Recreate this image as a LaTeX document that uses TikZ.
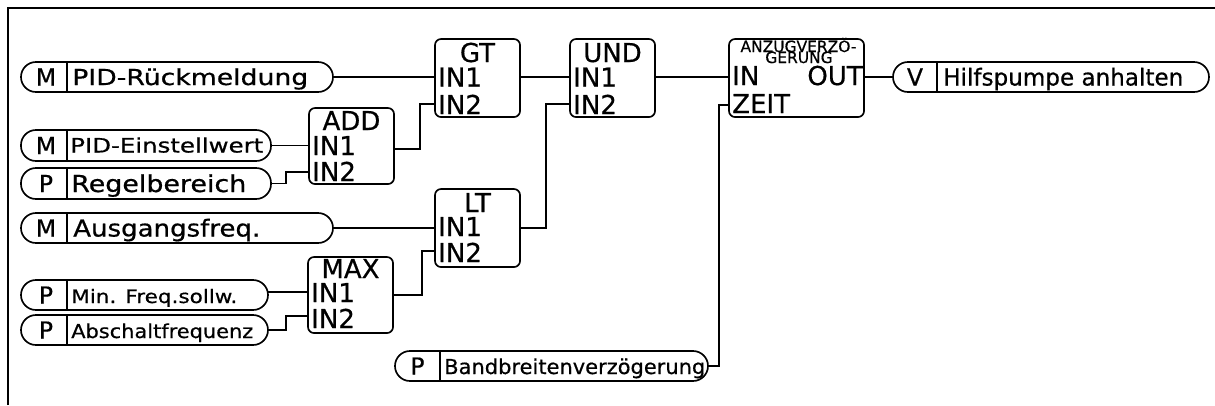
\documentclass[tikz,border=0pt]{standalone}
\usepackage{graphicx}
\usepackage{fontspec}
\setmainfont{DejaVu Sans}[FakeBold=0.6]
\usetikzlibrary{fit}
\newcommand\sqz[3]{\resizebox{#2}{\height}{\fontsize{#1}{#1}\selectfont #3}}
\tikzset{
  frame/.style={line width=1.4pt},
  pill/.style={draw, rounded corners=11.25pt, inner sep=0pt, line width=1.25pt},
  blk/.style={draw, rounded corners=4.5pt, inner sep=0pt, line width=1.25pt},
  wire/.style={line width=1.25pt},
  txt/.style={inner sep=0pt, anchor=base west},
  letter/.style={inner sep=0pt, anchor=base, font=\fontsize{17.5pt}{17.5pt}\selectfont},
  btxt/.style={inner sep=0pt, anchor=base west, font=\fontsize{19.5pt}{19.5pt}\selectfont},
  btitle/.style={inner sep=0pt, anchor=base, font=\fontsize{19.5pt}{19.5pt}\selectfont},
  stitle/.style={inner sep=0pt, anchor=base, font=\fontsize{11.6pt}{11.6pt}\selectfont},
}
\begin{document}
\begin{tikzpicture}[x=0.75pt,y=-0.75pt]
\useasboundingbox (0,0) rectangle (1215,405);
\draw[frame] (8,405) -- (8,8) -- (1215,8);

% ---------- input / output pills ----------
\node[pill, fit={(21,62)(333,92)}] (pidr) {};
\draw[wire] (67,62) -- (67,92);
\node[letter] (pidrL) at (46,85.5) {M};
\node[txt] (pidrT) at (72,85) {\sqz{16.5pt}{177pt}{PID-Rückmeldung}};

\node[pill, fit={(21,130)(271,161)}] (pide) {};
\draw[wire] (67,130) -- (67,161);
\node[letter] (pideL) at (46,154) {M};
\node[txt] (pideT) at (70,152.5) {\sqz{14.9pt}{144.75pt}{PID-Einstellwert}};

\node[pill, fit={(21,168)(271,199)}] (regel) {};
\draw[wire] (67,168) -- (67,199);
\node[letter] (regelL) at (46,192) {P};
\node[txt] (regelT) at (71,192) {\sqz{17.5pt}{131.25pt}{Regelbereich}};

\node[pill, fit={(21,213)(333,243)}] (ausg) {};
\draw[wire] (67,213) -- (67,243);
\node[letter] (ausgL) at (46,236.5) {M};
\node[txt] (ausgT) at (73,236.5) {\sqz{17.5pt}{140.25pt}{Ausgangsfreq.}};

\node[pill, fit={(21,280)(268,310)}] (minf) {};
\draw[wire] (67,280) -- (67,310);
\node[letter] (minfL) at (46,303.5) {P};
\node[txt] (minfT) at (71,303) {\sqz{13.9pt}{124.5pt}{Min. Freq.sollw.}};

\node[pill, fit={(21,315)(268,345)}] (absch) {};
\draw[wire] (67,315) -- (67,345);
\node[letter] (abschL) at (46,338.5) {P};
\node[txt] (abschT) at (71,338) {\sqz{14.4pt}{136.5pt}{Abschaltfrequenz}};

\node[pill, fit={(395,351)(708,381)}] (band) {};
\draw[wire] (440,351) -- (440,381);
\node[letter] (bandL) at (417.5,374.5) {P};
\node[txt] (bandT) at (444,374) {\sqz{15.4pt}{195.75pt}{Bandbreitenverzögerung}};

\node[pill, fit={(893,62)(1209,92)}] (hilf) {};
\draw[wire] (937,62) -- (937,92);
\node[letter] (hilfL) at (915,85.5) {V};
\node[txt] (hilfT) at (943,85.5) {\sqz{17.5pt}{180pt}{Hilfspumpe anhalten}};

% ---------- blocks ----------
\node[blk, fit={(309,108)(394,184)}] (add) {};
\node[btitle] (addT) at (351.5,130) {ADD};
\node[btxt] (addA) at (312,155) {IN1};
\node[btxt] (addB) at (312,181) {IN2};

\node[blk, fit={(435,39)(520,117)}] (gt) {};
\node[btitle] (gtT) at (477.5,62) {GT};
\node[btxt] (gtA) at (438,86.5) {IN1};
\node[btxt] (gtB) at (438,114) {IN2};

\node[blk, fit={(570,39)(655,117)}] (und) {};
\node[btitle] (undT) at (612.5,62) {UND};
\node[btxt] (undA) at (573,86.5) {IN1};
\node[btxt] (undB) at (573,114) {IN2};

\node[blk, fit={(435,189)(520,267)}] (lt) {};
\node[btitle] (ltT) at (477.5,212) {LT};
\node[btxt] (ltA) at (438,236) {IN1};
\node[btxt] (ltB) at (438,262) {IN2};

\node[blk, fit={(308,257)(393,333)}] (max) {};
\node[btitle] (maxT) at (350.5,278) {MAX};
\node[btxt] (maxA) at (311,302) {IN1};
\node[btxt] (maxB) at (311,328) {IN2};

\node[blk, fit={(729,39)(864,117)}] (anz) {};
\node[stitle] (anzT1) at (798.5,52) {ANZUGVERZÖ-};
\node[stitle] (anzT2) at (799,63) {GERUNG};
\node[btxt] (anzA) at (732,85) {IN};
\node[btxt, anchor=base east] (anzO) at (863,85) {OUT};
\node[btxt] (anzB) at (732,113) {ZEIT};

% ---------- ports ----------
\coordinate (add-in1) at (309,145.5);
\coordinate (add-in2) at (309,172);
\coordinate (add-out) at (394,149);
\coordinate (gt-in1) at (435,77);
\coordinate (gt-in2) at (435,104);
\coordinate (gt-out) at (520,77);
\coordinate (und-in1) at (570,77);
\coordinate (und-in2) at (570,104);
\coordinate (und-out) at (655,77);
\coordinate (lt-in1) at (435,228);
\coordinate (lt-in2) at (435,251);
\coordinate (lt-out) at (520,228);
\coordinate (max-in1) at (308,292);
\coordinate (max-in2) at (308,316);
\coordinate (max-out) at (393,295);
\coordinate (minf-out) at (268,292);
\coordinate (anz-in) at (729,77);
\coordinate (anz-zeit) at (729,105);
\coordinate (anz-out) at (864,77);

% ---------- connectors ----------
\draw[wire] (pidr.east) -- (gt-in1);
\draw[wire] (pide.east) -- (add-in1);
\draw[wire] (regel.east) -- ++(14,0) |- (add-in2);
\draw[wire] (add-out) -- ++(26,0) |- (gt-in2);
\draw[wire] (gt-out) -- (und-in1);
\draw[wire] (lt-out) -- ++(26,0) |- (und-in2);
\draw[wire] (und-out) -- (anz-in);
\draw[wire] (ausg.east) -- (lt-in1);
\draw[wire] (max-out) -- ++(29,0) |- (lt-in2);
\draw[wire] (minf-out) -- (max-in1);
\draw[wire] (absch.east) -- ++(17,0) |- (max-in2);
\draw[wire] (band.east) -- ++(10,0) |- (anz-zeit);
\draw[wire] (anz-out) -- (hilf.west);
\end{tikzpicture}
\end{document}
